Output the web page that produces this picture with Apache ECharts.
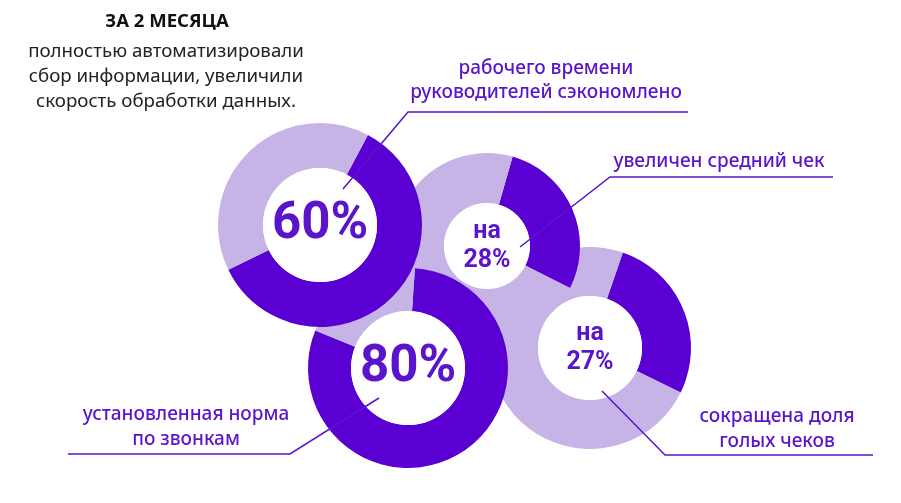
<!DOCTYPE html>
<html>
<head>
<meta charset="utf-8">
<script src="https://cdn.jsdelivr.net/npm/echarts@6/dist/echarts.min.js"></script>
<style>
html,body{margin:0;padding:0;background:#fff;}
#chart{width:901px;height:503px;}
</style>
</head>
<body>
<div id="chart"></div>
<script>
// ---- data ----
var metricNames = ['рабочего времени руководителей сэкономлено', 'увеличен средний чек', 'сокращена доля голых чеков', 'установленная норма по звонкам'];
var metricValues = [60, 28, 27, 80];
var metricRest = [40, 72, 73, 20];
var metricPrefix = ['', 'на', 'на', ''];

// ---- layout (drawing order: bottom to top) ----
var DARK = '#5a00d2', LIGHT = '#c6b4e6', INK = '#5a14cc';
var layout = [
  { idx: 2, center: [590, 348], radius: [52, 101], start: 71, font: 25 },
  { idx: 1, center: [487, 246], radius: [43, 93], start: 74, font: 25 },
  { idx: 3, center: [408, 368], radius: [57, 100], start: 86, font: 51 },
  { idx: 0, center: [320, 225], radius: [57, 102], start: 62, font: 51 }
];

var series = [];
layout.forEach(function (L) {
  var i = L.idx;
  series.push({
    type: 'pie', silent: true, animation: false,
    center: L.center, radius: L.radius, startAngle: L.start,
    label: { show: false }, labelLine: { show: false },
    itemStyle: { borderWidth: 0 },
    emphasis: { disabled: true },
    data: [
      { value: metricValues[i], name: metricNames[i], itemStyle: { color: DARK } },
      { value: metricRest[i], name: 'rest', itemStyle: { color: LIGHT } }
    ]
  });
  var txt = (metricPrefix[i] ? metricPrefix[i] + '\n' : '') + metricValues[i] + '%';
  series.push({
    type: 'pie', silent: true, animation: false,
    center: L.center, radius: [0, L.radius[0]],
    labelLine: { show: false },
    emphasis: { disabled: true },
    label: {
      show: true, position: 'center', formatter: txt,
      color: INK, fontFamily: 'Roboto', fontWeight: 'bold',
      fontSize: L.font, lineHeight: L.font * 1.18
    },
    data: [{ value: 1, name: 'hole', itemStyle: { color: '#ffffff' } }]
  });
});

function line(points) {
  return { type: 'polyline', z: 100, silent: true,
    shape: { points: points },
    style: { stroke: INK, lineWidth: 1.5, fill: null } };
}
function text(x, y, str, opt) {
  opt = opt || {};
  return { type: 'text', z: 100, silent: true, x: x, y: y,
    style: { text: str, fill: opt.color || INK, font: (opt.weight || '500') + ' ' + (opt.size || 19) + 'px "Noto Sans"',
      align: 'center', verticalAlign: 'middle', lineHeight: opt.lh || 25 } };
}

var graphic = [
  text(167, 22, 'ЗА 2 МЕСЯЦА', { color: '#111', weight: 'bold', size: 18.5 }),
  text(166, 77, 'полностью автоматизировали\nсбор информации, увеличили\nскорость обработки данных.', { color: '#222', weight: 'normal', size: 18.7, lh: 25 }),
  text(546, 81, 'рабочего времени\nруководителей сэкономлено', { lh: 24 }),
  text(719, 162, 'увеличен средний чек'),
  text(186, 427, 'установленная норма\nпо звонкам', { lh: 25 }),
  text(777, 429, 'сокращена доля\nголых чеков', { lh: 25 }),
  line([[343, 189], [408, 112], [688, 112]]),
  line([[520, 247], [610, 177], [833, 177]]),
  line([[602, 391], [665, 455], [873, 455]]),
  line([[379, 398], [290, 454], [68, 454]])
];

var chart = echarts.init(document.getElementById('chart'), null, { renderer: 'canvas' });
chart.setOption({
  backgroundColor: '#ffffff',
  animation: false,
  series: series,
  graphic: graphic
});
</script>
</body>
</html>
